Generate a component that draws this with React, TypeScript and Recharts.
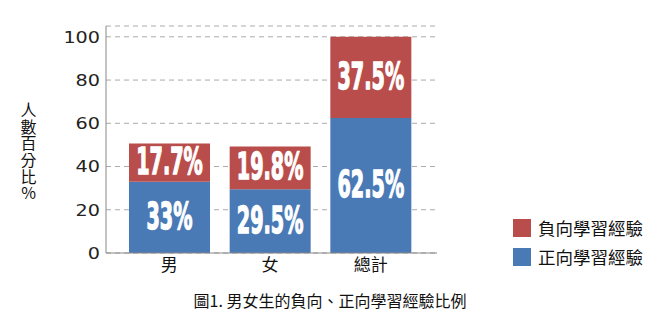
import React from 'react';
import { BarChart, Bar, XAxis, YAxis, CartesianGrid, LabelList, Legend } from 'recharts';

const categories = ['男', '女', '總計'];
const positiveValues = [33, 29.5, 62.5];
const negativeValues = [17.7, 19.8, 37.5];
const yTicks = [0, 20, 40, 60, 80, 100];
const yLabel = '人數百分比%';
const seriesNames = { neg: '負向學習經驗', pos: '正向學習經驗' };
const caption = '圖1. 男女生的負向、正向學習經驗比例';

const RED = '#B94D4B';
const BLUE = '#4A7AB5';
const CJK = '"Noto Sans CJK TC", "Noto Sans CJK SC", sans-serif';

const data = categories.map((c, i) => ({ name: c, pos: positiveValues[i], neg: negativeValues[i] }));

const BarLabel = (props: any) => {
  const x = Number(props.x), y = Number(props.y), w = Number(props.width), h = Number(props.height);
  const cx = x + w / 2;
  const cy = y + h / 2 - 2;
  return (
    <text
      transform={`translate(${cx},${cy + 13.5}) scale(0.52,1)`}
      textAnchor="middle"
      fill="#fff"
      stroke="#fff"
      strokeWidth={1.4}
      fontFamily="DejaVu Sans"
      fontWeight="bold"
      fontSize={37}
    >
      {props.value}%
    </text>
  );
};

const YTick = (props: any) => {
  const { x, y, payload } = props;
  return (
    <text
      transform={`translate(${x},${y}) scale(1.2,1)`}
      textAnchor="end"
      dy="0.36em"
      fill="#222"
      fontFamily="DejaVu Sans"
      fontSize={16}
    >
      {payload.value}
    </text>
  );
};

const YLabel = () => (
  <text
    x={28.5}
    y={152}
    textAnchor="middle"
    fill="#111"
    fontFamily={CJK}
    fontSize={16}
    letterSpacing={0.7}
    style={{ writingMode: 'vertical-rl', textOrientation: 'upright' } as any}
  >
    {yLabel}
  </text>
);

const LegendContent = () => {
  const items = [
    { name: seriesNames.neg, color: RED },
    { name: seriesNames.pos, color: BLUE },
  ];
  return (
    <div>
      {items.map((it) => (
        <div key={it.name} style={{ display: 'flex', alignItems: 'center', height: 18, marginBottom: 11 }}>
          <div style={{ width: 18, height: 18, background: it.color, marginRight: 7 }} />
          <span style={{ fontFamily: CJK, fontSize: 17.5, color: '#111', lineHeight: '18px', whiteSpace: 'nowrap' }}>
            {it.name}
          </span>
        </div>
      ))}
    </div>
  );
};

export default function App() {
  return (
    <div style={{ position: 'absolute', left: 0, top: 0, width: 660, height: 316, background: '#fff' }}>
      <BarChart
        width={660}
        height={316}
        data={data}
        margin={{ top: 26, right: 223, bottom: 33, left: 0 }}
      >
        <CartesianGrid vertical={false} stroke="#aaa" strokeDasharray="5 4" />
        <XAxis
          dataKey="name"
          height={30}
          padding={{ left: 13, right: 16 }}
          tickLine={false}
          tickMargin={0}
          axisLine={{ stroke: '#888' }}
          tick={{ fill: '#111', fontSize: 17, fontFamily: CJK }}
        />
        <YAxis
          width={106}
          domain={[0, 105]}
          ticks={yTicks}
          tickLine={false}
          tickSize={6}
          tickMargin={0}
          axisLine={{ stroke: '#888' }}
          tick={<YTick />}
          label={{ content: () => <YLabel /> }}
          allowDataOverflow
        />
        <Legend
          layout="horizontal"
          verticalAlign="middle"
          align="center"
          content={() => <LegendContent />}
          wrapperStyle={{ left: 513, top: 219, width: 145 }}
        />
        <Bar dataKey="pos" stackId="a" fill={BLUE} barSize={81} isAnimationActive={false}>
          <LabelList dataKey="pos" content={<BarLabel />} />
        </Bar>
        <Bar dataKey="neg" stackId="a" fill={RED} barSize={81} isAnimationActive={false}>
          <LabelList dataKey="neg" content={<BarLabel />} />
        </Bar>
      </BarChart>
      <div
        style={{
          position: 'absolute',
          left: 0,
          top: 292,
          width: 660,
          textAlign: 'center',
          fontFamily: CJK,
          fontSize: 16,
          lineHeight: '16px',
          color: '#111',
          whiteSpace: 'nowrap',
        }}
      >
        {caption}
      </div>
    </div>
  );
}
